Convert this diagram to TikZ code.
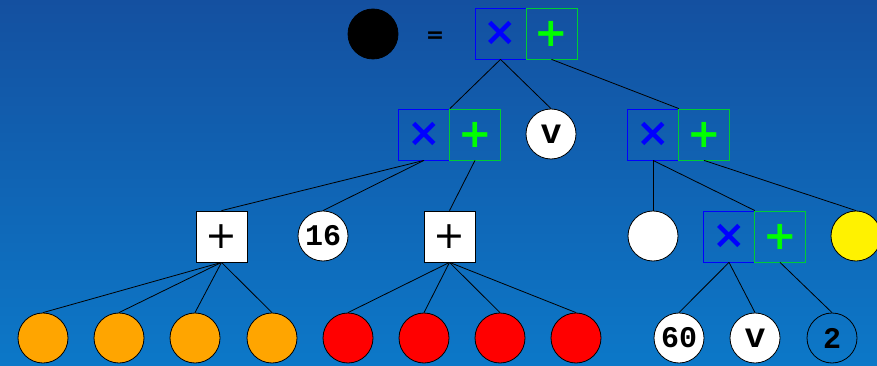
\documentclass[tikz,border=0pt]{standalone}
\usepackage{fontspec}
\newfontfamily\monof{Liberation Mono}[BoldFont={Liberation Mono Bold}]
\newfontfamily\symf{DejaVu Sans}[BoldFont={DejaVu Sans Bold}]
\definecolor{bgtop}{RGB}{20,80,160}
\definecolor{bgbot}{RGB}{12,120,200}
\definecolor{xblue}{RGB}{0,0,255}
\definecolor{pgreen}{RGB}{0,255,0}
\definecolor{gbord}{RGB}{0,204,51}
\tikzset{
  circ/.style={circle,draw=black,line width=0.8pt,minimum size=50pt,inner sep=0pt,font=\monof\bfseries\fontsize{30}{30}\selectfont},
  vtext/.style={font=\monof\bfseries\fontsize{35}{35}\selectfont},
  bbox/.style={rectangle,draw=xblue,line width=0.8pt,minimum size=51pt,inner sep=0pt,text=xblue,font=\symf\bfseries\fontsize{40}{40}\selectfont},
  gbox/.style={rectangle,draw=gbord,line width=0.8pt,minimum size=51pt,inner sep=0pt,text=pgreen,font=\symf\bfseries\fontsize{40}{40}\selectfont},
  wbox/.style={rectangle,draw=black,fill=white,line width=0.8pt,minimum size=51pt,inner sep=0pt,font=\symf\fontsize{38}{38}\selectfont},
  edge/.style={draw=black,line width=0.8pt}
}
\begin{document}
\begin{tikzpicture}[x=1pt,y=-1pt]
\useasboundingbox (0,0) rectangle (877,366);
\shade[top color=bgtop,bottom color=bgbot] (0,0) rectangle (877,366);
% top
\node[circ,fill=black] (blk) at (373,34) {};
\node[font=\symf\bfseries\fontsize{22}{22}\selectfont] (eq) at (435,37) {=};
\node[bbox] (Tb) at (500.5,33.5) {×};
\node[gbox] (Tg) at (551.5,33.5) {+};
% level 2
\node[bbox] (Lb) at (424,134.5) {×};
\node[gbox] (Lg) at (475,134.5) {+};
\node[circ,fill=white,vtext] (v1) at (551,134) {v};
\node[bbox] (Rb) at (653,134.5) {×};
\node[gbox] (Rg) at (704,134.5) {+};
% level 3
\node[wbox] (P1) at (221.5,236.5) {+};
\node[circ,fill=white] (n16) at (323,236) {16};
\node[wbox] (P2) at (449.5,236.5) {+};
\node[circ,fill=white] (wc) at (653,236) {};
\node[bbox] (Mb) at (729,236.5) {×};
\node[gbox] (Mg) at (780,236.5) {+};
\node[circ,fill=yellow] (yc) at (856,236) {};
% level 4
\definecolor{orng}{RGB}{255,165,0}
\foreach \x [count=\i] in {43,119,195,272} \node[circ,fill=orng] (o\i) at (\x,338) {};
\foreach \x [count=\i] in {348,424,500,576} \node[circ,fill=red] (r\i) at (\x,338) {};
\node[circ,fill=white] (n60) at (679,338) {60};
\node[circ,fill=white,vtext] (v2) at (755,338) {v};
\node[circ] (n2) at (832,338) {2};
% edges
\draw[edge] (Tb.south) -- (Lb.north east);
\draw[edge] (Tb.south) -- (v1.north);
\draw[edge] (Tg.south) -- (Rb.north east);
\draw[edge] (Lb.south) -- (P1.north);
\draw[edge] (Lb.south) -- (n16.north);
\draw[edge] (Lg.south) -- (P2.north);
\draw[edge] (Rb.south) -- (wc.north);
\draw[edge] (Rb.south) -- (Mb.north east);
\draw[edge] (Rg.south) -- (yc.north);
\foreach \i in {1,...,4} \draw[edge] (P1.south) -- (o\i.north);
\foreach \i in {1,...,4} \draw[edge] (P2.south) -- (r\i.north);
\draw[edge] (Mb.south) -- (n60.north);
\draw[edge] (Mb.south) -- (v2.north);
\draw[edge] (Mg.south) -- (n2.north);
\end{tikzpicture}
\end{document}
